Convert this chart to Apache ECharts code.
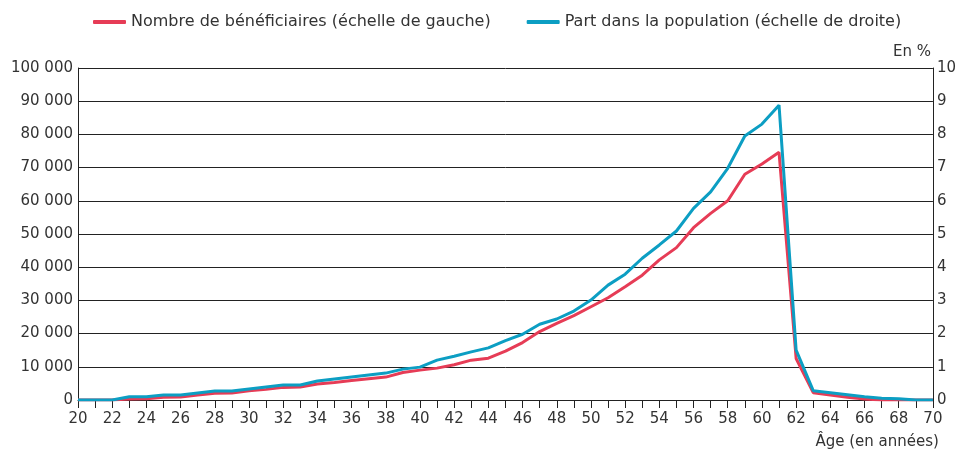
<!DOCTYPE html>
<html>
<head>
<meta charset="utf-8">
<script src="https://cdn.jsdelivr.net/npm/echarts@6/dist/echarts.min.js"></script>
<style>
  html, body { margin: 0; padding: 0; background: #fff; }
  #chart { width: 959px; height: 455px; }
</style>
</head>
<body>
<div id="chart"></div>
<script>
// âges de 20 à 70 ans
const ages = [
  20, 21, 22, 23, 24, 25, 26, 27, 28, 29,
  30, 31, 32, 33, 34, 35, 36, 37, 38, 39,
  40, 41, 42, 43, 44, 45, 46, 47, 48, 49,
  50, 51, 52, 53, 54, 55, 56, 57, 58, 59,
  60, 61, 62, 63, 64, 65, 66, 67, 68, 69, 70,
];

// nombre de bénéficiaires (échelle de gauche)
const beneficiaires = [
  0, 0, 0, 300, 400, 800, 900, 1500, 2000, 2100,
  2800, 3200, 3800, 3900, 4800, 5300, 5900, 6400, 6900, 8300,
  9000, 9600, 10600, 12000, 12600, 14700, 17300, 20600, 23100, 25400,
  28100, 30800, 34100, 37600, 42200, 45900, 51900, 56200, 60000, 68000,
  71100, 74600, 12500, 2200, 1500, 800, 300, 0, 0, 0, 0,
];

// part dans la population, en % (échelle de droite)
const partPopulation = [
  0, 0, 0, 0.1, 0.1, 0.15, 0.15, 0.21, 0.27, 0.27,
  0.33, 0.39, 0.45, 0.45, 0.57, 0.63, 0.69, 0.75, 0.81, 0.93,
  0.99, 1.2, 1.32, 1.45, 1.57, 1.79, 1.98, 2.28, 2.44, 2.68,
  3.01, 3.46, 3.79, 4.27, 4.67, 5.09, 5.77, 6.27, 6.98, 7.95,
  8.31, 8.88, 1.5, 0.28, 0.22, 0.16, 0.1, 0.05, 0.04, 0, 0,
];

const rouge = "#e63c56";
const bleu = "#0c9ec3";
const texte = "#333333";
const police = "DejaVu Sans";

const chart = echarts.init(document.getElementById("chart"));

const fmtMilliers = (v) => String(v).replace(/\B(?=(\d{3})+(?!\d))/g, " ");

chart.setOption({
  animation: false,
  textStyle: { fontFamily: police, color: texte },
  legend: {
    top: 9,
    left: 88,
    itemWidth: 33,
    itemHeight: 4,
    itemGap: 36,
    icon: "roundRect",
    textStyle: { fontFamily: police, fontSize: 16, color: texte },
    data: [
      "Nombre de bénéficiaires (échelle de gauche)",
      "Part dans la population (échelle de droite)",
    ],
  },
  grid: { left: 78, right: 26, top: 68, bottom: 55 },
  xAxis: {
    type: "category",
    data: ages,
    boundaryGap: false,
    name: "Âge (en années)",
    nameLocation: "end",
    nameGap: 0,
    nameTextStyle: {
      fontFamily: police,
      fontSize: 15,
      color: texte,
      align: "right",
      verticalAlign: "top",
      padding: [35, -6, 0, 0],
    },
    axisLine: { lineStyle: { color: "#222", width: 1 } },
    axisTick: { interval: 0, length: 8, lineStyle: { color: "#222" } },
    axisLabel: {
      interval: 1,
      margin: 12,
      fontFamily: police,
      fontSize: 15,
      color: texte,
    },
    splitLine: { show: false },
  },
  yAxis: [
    {
      type: "value",
      min: 0,
      max: 100000,
      interval: 10000,
      axisLine: { show: true, lineStyle: { color: "#222" } },
      axisTick: { show: false },
      axisLabel: {
        margin: 5,
        fontFamily: police,
        fontSize: 15,
        color: texte,
        formatter: fmtMilliers,
      },
      splitLine: { show: true, lineStyle: { color: "#222", width: 1 } },
    },
    {
      type: "value",
      min: 0,
      max: 10,
      interval: 1,
      name: "En %",
      nameLocation: "end",
      nameGap: 8,
      nameTextStyle: {
        fontFamily: police,
        fontSize: 15,
        color: texte,
        align: "right",
        padding: [0, 2, 0, 0],
      },
      axisLine: { show: true, lineStyle: { color: "#222" } },
      axisTick: { show: false },
      axisLabel: {
        margin: 4,
        fontFamily: police,
        fontSize: 15,
        color: texte,
      },
      splitLine: { show: false },
    },
  ],
  series: [
    {
      name: "Nombre de bénéficiaires (échelle de gauche)",
      type: "line",
      yAxisIndex: 0,
      data: beneficiaires,
      symbol: "none",
      color: rouge,
      lineStyle: { color: rouge, width: 3 },
    },
    {
      name: "Part dans la population (échelle de droite)",
      type: "line",
      yAxisIndex: 1,
      data: partPopulation,
      symbol: "none",
      color: bleu,
      lineStyle: { color: bleu, width: 3 },
    },
  ],
});
</script>
</body>
</html>
